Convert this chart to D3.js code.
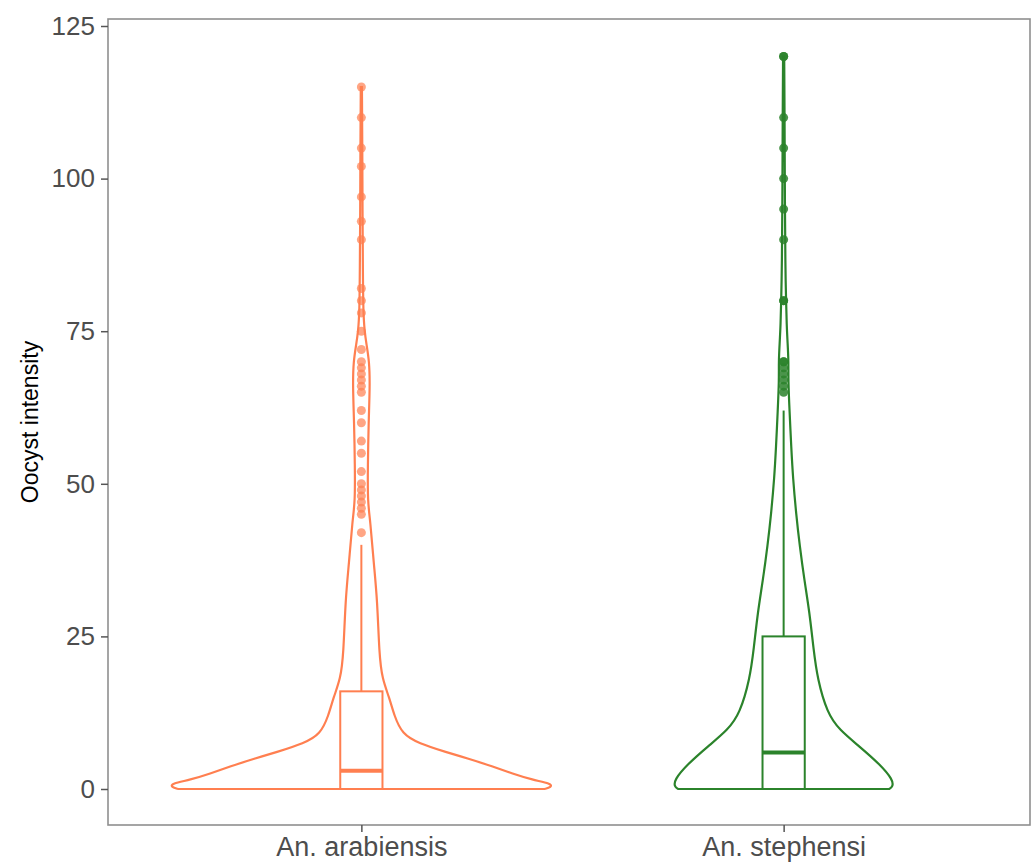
<!DOCTYPE html>
<html>
<head>
<meta charset="utf-8">
<script src="https://cdn.jsdelivr.net/npm/d3@7"></script>
<style>
  body { margin: 0; background: #fff; }
  svg { display: block; font-family: "Liberation Sans", Arial, sans-serif; }
</style>
</head>
<body>
<div id="chart"></div>
<script>
const species = ["An. arabiensis", "An. stephensi"];
const colors = ["#FF7F50", "#2B832B"];
const yTicks = [0, 25, 50, 75, 100, 125];

// violin outlines: [value, relative density]
const arabiensisDensity = [[0, .963], [0.3, 1], [0.9, 1], [1.5, .90], [2.5, .796], [3.7, .691], [5, .56], [6, .45],
  [7.5, .30], [9, .215], [12, .173], [15, .147], [18, .11], [22, .094], [31, .084], [37, .065], [44, .047],
  [47, .033], [53, .034], [60, .038], [66, .045], [70, .042], [73, .026], [75, .017], [78, .010], [85, .008],
  [95, .006], [105, .005], [115, .003]];
const stephensiDensity = [[0, .555], [0.4, .575], [1.5, .575], [4, .508], [7, .398], [9.7, .293], [12.4, .23], [18, .178],
  [23, .157], [29, .136], [34, .11], [40, .084], [45, .066], [51, .049], [56, .04], [62, .031], [67, .024],
  [70, .026], [73, .021], [76, .016], [80, .013], [85, .009], [100, .006], [110, .005], [120, .003]];

// box stats: lower whisker, q1, median, q3, upper whisker
const arabiensisBox = [0, 0, 3, 16, 40];
const stephensiBox = [0, 0, 6, 25, 62];

const arabiensisOutliers = [42, 45, 46, 47, 48, 49, 50, 52, 55, 57, 60, 62, 65, 66, 67, 68, 69, 70, 72,
  75, 78, 80, 82, 90, 93, 97, 102, 105, 110, 115];
const stephensiOutliers = [65, 66, 67, 68, 69, 70, 70, 80, 80, 90, 95, 100, 105, 110, 120, 120];

const densities = [arabiensisDensity, stephensiDensity];
const boxes = [arabiensisBox, stephensiBox];
const outliers = [arabiensisOutliers, stephensiOutliers];

const width = 1033, height = 867;
const panel = { left: 108, top: 19, right: 1030, bottom: 825 };

const svg = d3.select("#chart").append("svg")
    .attr("width", width)
    .attr("height", height);

const x = d3.scalePoint()
    .domain(species)
    .range([panel.left, 1037])
    .padding(0.6);
const step = x.step();

const y = d3.scaleLinear()
    .domain([0, 125])
    .range([789, 26]);

const halfWidth = d3.scaleLinear().domain([0, 1]).range([0, step * 0.45]);

// panel border
svg.append("rect")
    .attr("x", panel.left)
    .attr("y", panel.top)
    .attr("width", panel.right - panel.left)
    .attr("height", panel.bottom - panel.top)
    .attr("fill", "none")
    .attr("stroke", "#8f8f8f")
    .attr("stroke-width", 1.6);

// y axis
const yAxis = svg.append("g")
    .attr("transform", `translate(${panel.left},0)`)
    .call(d3.axisLeft(y).tickValues(yTicks).tickSize(7).tickPadding(6));
yAxis.select(".domain").remove();
yAxis.selectAll("line").attr("stroke", "#555").attr("stroke-width", 1.5);
yAxis.selectAll("text")
    .attr("fill", "#4d4d4d")
    .style("font-size", "26px")
    .style("font-family", "Liberation Sans, Arial, sans-serif");

// x axis
const xAxis = svg.append("g")
    .attr("transform", `translate(0,${panel.bottom})`)
    .call(d3.axisBottom(x).tickSize(7).tickPadding(5));
xAxis.select(".domain").remove();
xAxis.selectAll("line").attr("stroke", "#555").attr("stroke-width", 1.5);
xAxis.selectAll("text")
    .attr("fill", "#4d4d4d")
    .style("font-size", "27px")
    .style("font-family", "Liberation Sans, Arial, sans-serif");

svg.append("text")
    .attr("transform", `translate(38,${(panel.top + panel.bottom) / 2}) rotate(-90)`)
    .attr("text-anchor", "middle")
    .attr("fill", "#000")
    .style("font-size", "23px")
    .text("Oocyst intensity");

species.forEach((sp, i) => {
    const cx = x(sp);
    const col = colors[i];
    const g = svg.append("g");

    const area = d3.area()
        .y(d => y(d[0]))
        .x0(d => cx - halfWidth(d[1]))
        .x1(d => cx + halfWidth(d[1]))
        .curve(d3.curveBasis);

    g.append("path")
        .datum(densities[i])
        .attr("d", area)
        .attr("fill", "none")
        .attr("stroke", col)
        .attr("stroke-width", 2.2);

    const [lo, q1, med, q3, hi] = boxes[i];
    const bw = step * 0.1;

    g.append("line")
        .attr("x1", cx).attr("x2", cx)
        .attr("y1", y(q3)).attr("y2", y(hi))
        .attr("stroke", col).attr("stroke-width", 2);
    g.append("line")
        .attr("x1", cx).attr("x2", cx)
        .attr("y1", y(lo)).attr("y2", y(q1))
        .attr("stroke", col).attr("stroke-width", 2);

    g.append("rect")
        .attr("x", cx - bw / 2)
        .attr("y", y(q3))
        .attr("width", bw)
        .attr("height", y(q1) - y(q3))
        .attr("fill", "none")
        .attr("stroke", col)
        .attr("stroke-width", 2);

    g.append("line")
        .attr("x1", cx - bw / 2).attr("x2", cx + bw / 2)
        .attr("y1", y(med)).attr("y2", y(med))
        .attr("stroke", col).attr("stroke-width", 4);

    g.selectAll("circle")
        .data(outliers[i])
        .enter().append("circle")
        .attr("cx", cx)
        .attr("cy", d => y(d))
        .attr("r", 4.5)
        .attr("fill", col)
        .attr("fill-opacity", i === 0 ? 0.7 : 0.85)
        .attr("stroke", "none");
});
</script>
</body>
</html>
